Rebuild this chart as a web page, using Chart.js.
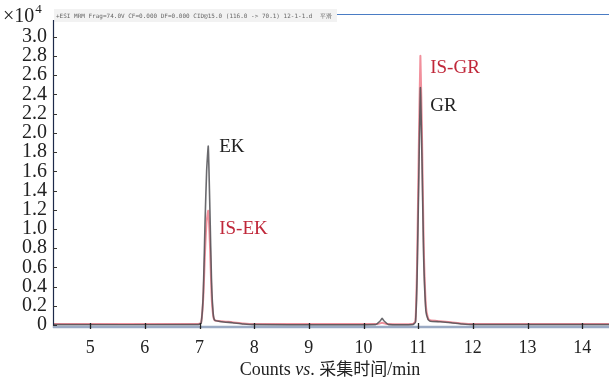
<!DOCTYPE html>
<html>
<head>
<meta charset="utf-8">
<script src="https://cdn.jsdelivr.net/npm/chart.js@4"></script>
<style>
  html, body { margin: 0; padding: 0; background: #fff; }
  #wrap { width: 609px; height: 380px; position: relative; }
</style>
</head>
<body>
<div id="wrap"><canvas id="c" width="609" height="380"></canvas></div>
<script>
'use strict';

// ── DATA (counts in units of 10^4) ──────────────────────────────────────────
const grayTime = [4.32, 6.98, 7.03, 7.07, 7.10, 7.13, 7.16, 7.19, 7.22, 7.25, 7.28, 7.40, 7.60, 7.80, 8.00,
  10.22, 10.30, 10.34, 10.38, 10.46, 10.90, 10.95, 10.98, 11.01, 11.04, 11.07, 11.10, 11.14, 11.18, 11.22,
  11.40, 11.60, 11.80, 12.00, 14.50];
const grayCounts = [0.005, 0.005, 0.02, 0.35, 1.05, 1.6, 1.86, 1.2, 0.45, 0.12, 0.05, 0.035, 0.025, 0.012, 0.005,
  0.005, 0.04, 0.07, 0.04, 0.005, 0.005, 0.03, 0.5, 1.5, 2.47, 1.7, 0.7, 0.15, 0.06, 0.04,
  0.035, 0.025, 0.012, 0.005, 0.005];

const redTime = [4.32, 6.98, 7.03, 7.07, 7.10, 7.13, 7.16, 7.19, 7.22, 7.25, 7.28, 7.40, 7.60, 7.80, 8.00,
  10.26, 10.34, 10.42, 10.90, 10.95, 10.98, 11.01, 11.04, 11.07, 11.10, 11.14, 11.18, 11.22,
  11.40, 11.60, 11.80, 12.00, 14.50];
const redCounts = [0.012, 0.012, 0.025, 0.3, 0.75, 1.08, 1.19, 0.85, 0.32, 0.1, 0.05, 0.04, 0.03, 0.018, 0.012,
  0.012, 0.025, 0.012, 0.012, 0.04, 0.65, 1.8, 2.80, 1.95, 0.85, 0.2, 0.07, 0.05,
  0.04, 0.03, 0.018, 0.012, 0.012];

const xTicks = [5, 6, 7, 8, 9, 10, 11, 12, 13, 14];
const yTicks = [0, 0.2, 0.4, 0.6, 0.8, 1.0, 1.2, 1.4, 1.6, 1.8, 2.0, 2.2, 2.4, 2.6, 2.8, 3.0];

// peak labels: [text, time, counts, colour]
const peakLabels = [
  ['EK', 7.36, 1.85, '#222'],
  ['IS-EK', 7.36, 1.0, '#c0283a'],
  ['IS-GR', 11.22, 2.67, '#c0283a'],
  ['GR', 11.22, 2.28, '#222']
];

const headerText = '+ESI MRM Frag=74.0V CF=0.000 DF=0.000 CID@15.0 (116.0 -> 70.1) 12-1-1.d  平滑';
const SERIF = '"Liberation Serif", "Times New Roman", serif';

const toPts = (xs, ys) => xs.map((x, i) => ({ x, y: ys[i] }));

// ── DECORATION PLUGIN ───────────────────────────────────────────────────────
const decor = {
  id: 'decor',
  afterDraw(chart) {
    const { ctx, chartArea: a, scales: { x, y } } = chart;
    ctx.save();

    // header box + text
    ctx.fillStyle = '#f2f2f2';
    ctx.fillRect(a.left + 1, 9, 283, 13);
    ctx.font = '6px "DejaVu Sans Mono", monospace';
    ctx.fillStyle = '#666';
    ctx.textBaseline = 'middle';
    ctx.fillText(headerText, a.left + 3, 16);

    // top blue frame line
    ctx.strokeStyle = '#4a7cc4';
    ctx.lineWidth = 1.2;
    ctx.beginPath();
    ctx.moveTo(a.left + 284, 14.5);
    ctx.lineTo(a.right, 14.5);
    ctx.stroke();

    // left axis
    ctx.strokeStyle = '#1d2a4a';
    ctx.lineWidth = 1.2;
    ctx.beginPath();
    ctx.moveTo(a.left + 0.5, 20);
    ctx.lineTo(a.left + 0.5, a.bottom);
    ctx.stroke();

    // bottom axis band
    ctx.strokeStyle = '#9aaac4';
    ctx.lineWidth = 2.5;
    ctx.beginPath();
    ctx.moveTo(a.left, a.bottom - 1);
    ctx.lineTo(a.right, a.bottom - 1);
    ctx.stroke();

    // y ticks (inside)
    ctx.strokeStyle = '#333';
    ctx.lineWidth = 1;
    yTicks.forEach(v => {
      const py = Math.round(y.getPixelForValue(v)) + 0.5;
      ctx.beginPath();
      ctx.moveTo(a.left, py);
      ctx.lineTo(a.left + 4, py);
      ctx.stroke();
    });
    // x ticks
    ctx.strokeStyle = '#222';
    ctx.lineWidth = 1.3;
    xTicks.forEach(v => {
      const px = Math.round(x.getPixelForValue(v)) + 0.5;
      ctx.beginPath();
      ctx.moveTo(px, a.bottom - 5);
      ctx.lineTo(px, a.bottom + 1);
      ctx.stroke();
    });

    // ×10^4
    ctx.fillStyle = '#222';
    ctx.textBaseline = 'alphabetic';
    ctx.textAlign = 'left';
    ctx.font = '20px ' + SERIF;
    ctx.fillText('×10', 3, 22);
    const w = ctx.measureText('×10').width;
    ctx.font = '13px ' + SERIF;
    ctx.fillText('4', 3 + w + 1, 13);

    // peak labels
    ctx.font = '19px ' + SERIF;
    ctx.textBaseline = 'middle';
    peakLabels.forEach(([t, px, py, c]) => {
      ctx.fillStyle = c;
      ctx.fillText(t, x.getPixelForValue(px), y.getPixelForValue(py));
    });

    // x title with italic "vs."
    const parts = [
      ['Counts ', '18px ' + SERIF],
      ['vs', 'italic 18px ' + SERIF],
      ['. ', '18px ' + SERIF],
      ['采集时间', '17px "Noto Sans CJK SC", sans-serif'],
      ['/min', '18px ' + SERIF]
    ];
    let total = 0;
    parts.forEach(([s, f]) => { ctx.font = f; total += ctx.measureText(s).width; });
    let cx = 330 - total / 2;
    ctx.fillStyle = '#222';
    ctx.textBaseline = 'alphabetic';
    parts.forEach(([s, f]) => {
      ctx.font = f;
      ctx.fillText(s, cx, 375);
      cx += ctx.measureText(s).width;
    });
    ctx.restore();
  }
};

// ── CHART ───────────────────────────────────────────────────────────────────
new Chart(document.getElementById('c'), {
  type: 'scatter',
  data: {
    datasets: [
      {
        label: 'analyte',
        data: toPts(grayTime, grayCounts),
        showLine: true,
        borderColor: 'rgba(80,80,85,0.85)',
        borderWidth: 1.6,
        pointRadius: 0,
        tension: 0.15
      },
      {
        label: 'IS',
        data: toPts(redTime, redCounts),
        showLine: true,
        borderColor: 'rgba(232,70,90,0.6)',
        borderWidth: 2,
        pointRadius: 0,
        tension: 0.15
      }
    ]
  },
  options: {
    responsive: false,
    animation: false,
    layout: { padding: { top: 15, right: 0, left: 0, bottom: 0 } },
    plugins: { legend: { display: false }, tooltip: { enabled: false } },
    scales: {
      x: {
        type: 'linear',
        min: 4.32,
        max: 14.49,
        afterBuildTicks: s => { s.ticks = xTicks.map(v => ({ value: v })); },
        afterFit: s => { s.height = 52; },
        grid: { display: false, drawTicks: false },
        border: { display: false },
        ticks: {
          padding: 9,
          autoSkip: false,
          maxRotation: 0,
          color: '#222',
          font: { family: SERIF, size: 18 },
          callback: v => String(v)
        }
      },
      y: {
        min: -0.03,
        max: 3.215,
        afterBuildTicks: s => { s.ticks = yTicks.map(v => ({ value: v })); },
        afterFit: s => { s.width = 53; },
        grid: { display: false, drawTicks: false },
        border: { display: false },
        ticks: {
          padding: 6,
          autoSkip: false,
          color: '#222',
          font: { family: SERIF, size: 20, lineHeight: 1 },
          callback: v => (v === 0 ? '0' : v.toFixed(1))
        }
      }
    }
  },
  plugins: [decor]
});
</script>
</body>
</html>
